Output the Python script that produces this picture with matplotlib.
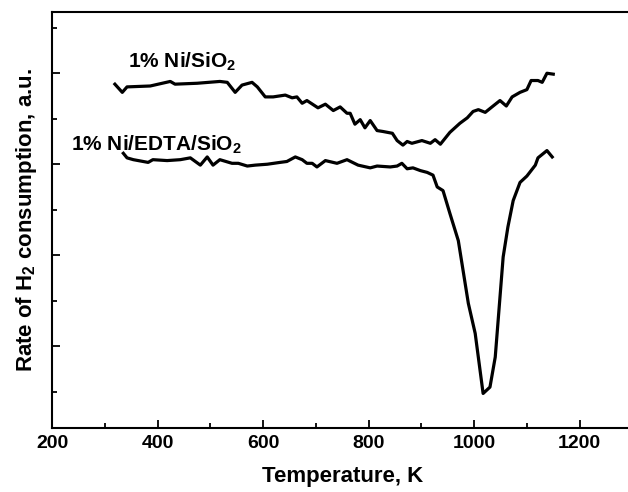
import matplotlib
matplotlib.use("Agg")
import matplotlib.pyplot as plt
from matplotlib.ticker import MultipleLocator, NullFormatter

# 1% Ni/SiO2
t_ni = [319, 333, 342, 386, 424, 433, 475, 518, 532, 547, 560, 579, 589, 604, 619,
        642, 655, 664, 674, 683, 704, 718, 733, 746, 759, 765, 774, 784, 793, 803,
        816, 827, 845, 854, 865, 873, 882, 901, 917, 926, 936, 954, 973, 987, 998,
        1008, 1021, 1036, 1049, 1061, 1072, 1087, 1100, 1108, 1121, 1129, 1138, 1150]
r_ni = [3.88, 3.79, 3.85, 3.86, 3.91, 3.88, 3.89, 3.91, 3.90, 3.79, 3.87, 3.90, 3.85, 3.74, 3.74,
        3.76, 3.73, 3.74, 3.67, 3.70, 3.62, 3.66, 3.59, 3.63, 3.56, 3.56, 3.44, 3.49, 3.40, 3.48,
        3.37, 3.36, 3.34, 3.26, 3.21, 3.25, 3.23, 3.26, 3.23, 3.27, 3.22, 3.35, 3.45, 3.51, 3.58,
        3.60, 3.57, 3.64, 3.70, 3.64, 3.74, 3.79, 3.82, 3.92, 3.92, 3.90, 4.00, 3.99]

# 1% Ni/EDTA/SiO2
t_edta = [335, 342, 354, 382, 391, 418, 443, 462, 481, 494, 505, 518, 541, 553, 570,
          585, 608, 632, 645, 661, 674, 683, 693, 702, 718, 740, 759, 780, 803, 816,
          841, 854, 863, 873, 884, 898, 911, 922, 930, 941, 954, 970, 989, 1002, 1017,
          1030, 1040, 1055, 1064, 1074, 1087, 1100, 1116, 1121, 1138, 1148]
r_edta = [3.12, 3.07, 3.05, 3.02, 3.05, 3.04, 3.05, 3.07, 2.99, 3.08, 2.99, 3.05, 3.01, 3.01, 2.98,
          2.99, 3.00, 3.02, 3.03, 3.08, 3.05, 3.01, 3.01, 2.97, 3.04, 3.01, 3.05, 2.99, 2.96, 2.98,
          2.97, 2.98, 3.01, 2.95, 2.96, 2.93, 2.91, 2.88, 2.75, 2.71, 2.46, 2.16, 1.47, 1.14, 0.48,
          0.55, 0.88, 1.98, 2.31, 2.60, 2.80, 2.87, 2.99, 3.07, 3.15, 3.08]

plt.rcParams['font.family'] = ['Liberation Sans', 'DejaVu Sans']
plt.rcParams['font.weight'] = 'bold'
plt.rcParams['mathtext.default'] = 'regular'

fig = plt.figure(figsize=(6.28, 4.92), dpi=100)
ax = fig.add_axes([0.083, 0.13, 0.924, 0.845])

ax.plot(t_ni, r_ni, color='black', lw=2.3)
ax.plot(t_edta, r_edta, color='black', lw=2.3)

ax.text(344, 4.12, '1% Ni/SiO$_2$', fontsize=15, fontweight='bold', va='center')
ax.text(236, 3.21, '1% Ni/EDTA/SiO$_2$', fontsize=15, fontweight='bold', va='center')

ax.set_xlim(200, 1300)
ax.set_ylim(0.1, 4.67)
ax.xaxis.set_major_locator(MultipleLocator(200))
ax.xaxis.set_minor_locator(MultipleLocator(100))
ax.yaxis.set_major_locator(MultipleLocator(1))
ax.yaxis.set_minor_locator(MultipleLocator(0.5))
ax.yaxis.set_major_formatter(NullFormatter())
ax.tick_params(which='both', direction='in', width=1.3, top=False, right=False)
ax.tick_params(which='major', length=6)
ax.tick_params(which='minor', length=3.5)
ax.tick_params(axis='x', labelsize=14, pad=5)
for lab in ax.get_xticklabels():
    lab.set_fontweight('bold')
for s in ax.spines.values():
    s.set_linewidth(1.5)

ax.set_xlabel('Temperature, K', fontsize=16, fontweight='bold', labelpad=10)
ax.set_ylabel('Rate of H$_2$ consumption, a.u.', fontsize=16, fontweight='bold', labelpad=6)

fig.savefig('out.png', dpi=100)
